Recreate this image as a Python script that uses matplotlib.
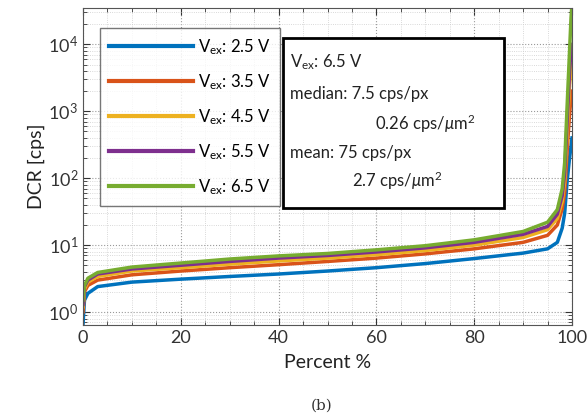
import matplotlib
matplotlib.use("Agg")
import matplotlib.pyplot as plt
from matplotlib.ticker import LogLocator, MultipleLocator, NullFormatter

plt.rcParams['font.family'] = ['Lato', 'DejaVu Sans']
plt.rcParams['mathtext.fontset'] = 'custom'
plt.rcParams['mathtext.rm'] = 'Lato'
plt.rcParams['mathtext.it'] = 'Lato:italic'

# percentile positions (%) and DCR values (cps)
percent = [0, 0.3, 1, 3, 10, 20, 30, 40, 50, 60, 70, 80, 90, 95, 97, 98, 98.5, 99, 99.5, 99.8, 100]
dcr_25 = [0.65, 1.5, 1.9, 2.4, 2.8, 3.1, 3.4, 3.7, 4.1, 4.6, 5.3, 6.3, 7.6, 8.8, 11, 18, 30, 90, 200, 300, 400]
dcr_35 = [1.0, 2.0, 2.5, 3.0, 3.6, 4.1, 4.6, 5.1, 5.7, 6.4, 7.4, 8.8, 11, 14, 20, 35, 60, 250, 900, 1600, 2000]
dcr_45 = [1.2, 2.2, 2.8, 3.4, 4.1, 4.6, 5.2, 5.8, 6.4, 7.2, 8.3, 10, 13, 17, 25, 45, 90, 450, 2500, 4000, 5000]
dcr_55 = [1.3, 2.4, 3.0, 3.7, 4.4, 5.0, 5.7, 6.4, 7.0, 7.9, 9.1, 11, 14.5, 19, 29, 55, 120, 700, 4000, 8000, 10000]
dcr_65 = [1.5, 2.5, 3.2, 3.9, 4.7, 5.4, 6.2, 6.9, 7.5, 8.5, 9.8, 12, 16, 22, 34, 70, 170, 1200, 8000, 25000, 40000]

series = [dcr_25, dcr_35, dcr_45, dcr_55, dcr_65]
labels = [r'V$_{\rm ex}$: 2.5 V', r'V$_{\rm ex}$: 3.5 V', r'V$_{\rm ex}$: 4.5 V',
          r'V$_{\rm ex}$: 5.5 V', r'V$_{\rm ex}$: 6.5 V']
colors = ['#0072BD', '#D95319', '#EDB120', '#7E2F8E', '#77AC30']

fig = plt.figure(figsize=(5.87, 4.19), dpi=100)
ax = fig.add_axes([83 / 587, 1 - 325 / 419, 489 / 587, 317 / 419])

for vals, lab, c in zip(series, labels, colors):
    ax.plot(percent, vals, color=c, lw=2.5, label=lab)

ax.set_yscale('log')
ax.set_xlim(0, 100)
ax.set_ylim(0.64, 35000)
ax.xaxis.set_major_locator(MultipleLocator(20))
ax.xaxis.set_minor_locator(MultipleLocator(5))
ax.yaxis.set_major_locator(LogLocator(base=10, numticks=10))
ax.yaxis.set_minor_locator(LogLocator(base=10, subs=range(2, 10), numticks=20))
ax.yaxis.set_minor_formatter(NullFormatter())
ax.grid(True, which='major', ls=':', color='#999999', lw=0.8)
ax.grid(True, which='minor', ls=':', color='#cccccc', lw=0.6)
ax.tick_params(which='both', direction='in', top=True, right=True, labelsize=13, colors='#333333')
ax.tick_params(which='major', length=5)
ax.tick_params(which='minor', length=3)
for sp in ax.spines.values():
    sp.set_color('#555555')

ax.set_xlabel('Percent %', fontsize=14, color='#222222', labelpad=6)
ax.set_ylabel('DCR [cps]', fontsize=14, color='#222222', labelpad=2)

leg = ax.legend(loc='upper left', bbox_to_anchor=(17 / 489, 1 - 20 / 317), fontsize=12,
                handlelength=5.0, handletextpad=0.3, labelspacing=0.92,
                fancybox=False, edgecolor='#555555', borderpad=0.55, borderaxespad=0)
leg.get_frame().set_linewidth(1.0)
for line in leg.get_lines():
    line.set_linewidth(3)

# annotation box
box_x0, box_y0 = (283 - 83) / 489, (325 - 208) / 317
box_w, box_h = (504 - 283) / 489, (208 - 38) / 317
ax.add_patch(plt.Rectangle((box_x0, box_y0), box_w, box_h, transform=ax.transAxes,
                           fill=True, facecolor='white', edgecolor='black', lw=2, zorder=5))

def fy(py):
    return (325 - py) / 317

def fx(px):
    return (px - 83) / 489

txt = dict(transform=ax.transAxes, fontsize=12, color='#222222', va='center', zorder=6)
ax.text(fx(290), fy(62), r'V$_{\rm ex}$: 6.5 V', **txt)
ax.text(fx(290), fy(94), 'median: 7.5 cps/px', **txt)
ax.text(fx(475), fy(124), r'0.26 cps/$\mu$m$^2$', ha='right', **txt)
ax.text(fx(290), fy(153), 'mean: 75 cps/px', **txt)
ax.text(fx(352), fy(181), r'2.7 cps/$\mu$m$^2$', **txt)

fig.text(322 / 587, 1 - 406 / 419, '(b)', ha='center', va='center',
         fontsize=11, family='DejaVu Serif', color='#333333')

fig.savefig('out.png', dpi=100)
